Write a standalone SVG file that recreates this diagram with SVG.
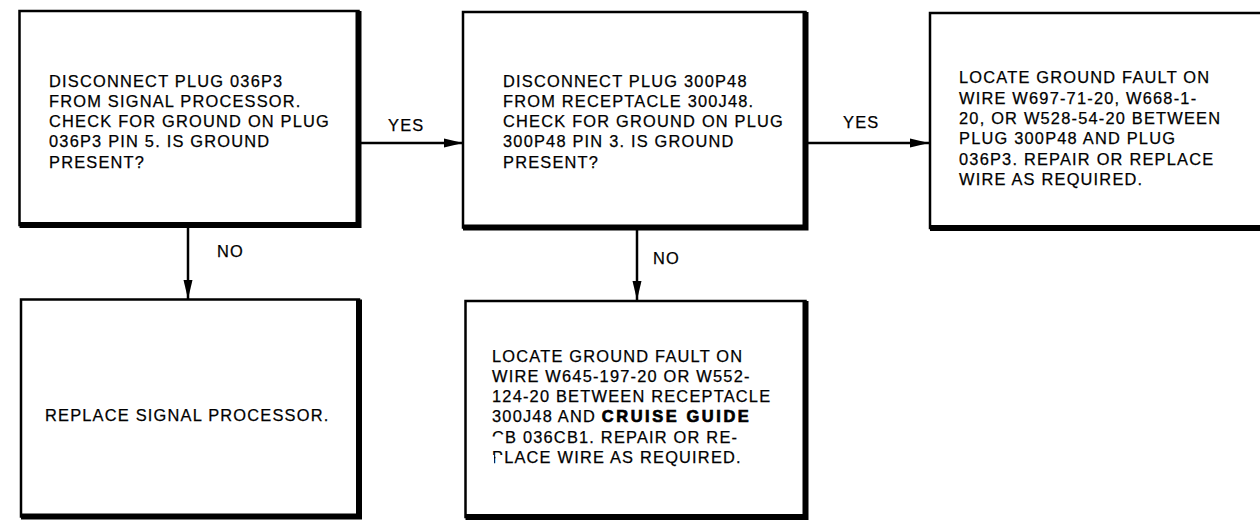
<svg xmlns="http://www.w3.org/2000/svg" width="1260" height="522" viewBox="0 0 1260 522">
<style>
.box{fill:#fff;stroke:#000;stroke-width:2.5}
.sh{fill:none;stroke:#000;stroke-width:6;stroke-linejoin:miter}
.t{font-family:"Liberation Sans",Arial,sans-serif;font-size:16.4px;letter-spacing:1.2px;fill:#000;stroke:#000;stroke-width:0.25}
.b{font-weight:bold;letter-spacing:2.6px;stroke-width:0.7}
.c{fill:none;stroke:#000;stroke-width:2.5}
.m{fill:#fff}
</style>
<defs>
<marker id="ah" markerUnits="userSpaceOnUse" markerWidth="20" markerHeight="10" refX="19" refY="5" orient="auto">
<path d="M0,0.5 L19,5 L0,9.5 z" fill="#000"/>
</marker>
</defs>
<rect width="1260" height="522" fill="#fff"/>
<g id="n1">
<rect class="box" x="19.5" y="11" width="339" height="214"/>
<path class="sh" d="M358.5,11 V225 H19.5"/>
<text class="t" x="49" y="86.5">DISCONNECT PLUG 036P3</text>
<text class="t" x="49" y="106.8">FROM SIGNAL PROCESSOR.</text>
<text class="t" x="49" y="127.1">CHECK FOR GROUND ON PLUG</text>
<text class="t" x="49" y="147.4">036P3 PIN 5. IS GROUND</text>
<text class="t" x="49" y="167.7">PRESENT?</text>
</g>
<g id="n2">
<rect class="box" x="463" y="12" width="342.5" height="215.5"/>
<path class="sh" d="M805.5,12 V227.5 H463"/>
<text class="t" x="503" y="86.5">DISCONNECT PLUG 300P48</text>
<text class="t" x="503" y="106.8">FROM RECEPTACLE 300J48.</text>
<text class="t" x="503" y="127.1">CHECK FOR GROUND ON PLUG</text>
<text class="t" x="503" y="147.4">300P48 PIN 3. IS GROUND</text>
<text class="t" x="503" y="167.7">PRESENT?</text>
</g>
<g id="n3">
<rect class="box" x="930" y="13" width="345" height="215"/>
<path class="sh" d="M930,228 H1275"/>
<text class="t" x="959" y="83.3">LOCATE GROUND FAULT ON</text>
<text class="t" x="959" y="103.6">WIRE W697-71-20, W668-1-</text>
<text class="t" x="959" y="123.9">20, OR W528-54-20 BETWEEN</text>
<text class="t" x="959" y="144.2">PLUG 300P48 AND PLUG</text>
<text class="t" x="959" y="164.5">036P3. REPAIR OR REPLACE</text>
<text class="t" x="959" y="184.8">WIRE AS REQUIRED.</text>
</g>
<g id="n4">
<rect class="box" x="21" y="299.5" width="338" height="217"/>
<path class="sh" d="M359,299.5 V516.5 H21"/>
<text class="t" x="45" y="421">REPLACE SIGNAL PROCESSOR.</text>
</g>
<g id="n5">
<rect class="box" x="465.5" y="301" width="340" height="216"/>
<path class="sh" d="M805.5,301 V517 H465.5"/>
<text class="t" x="492" y="361.7">LOCATE GROUND FAULT ON</text>
<text class="t" x="492" y="381.9">WIRE W645-197-20 OR W552-</text>
<text class="t" x="492" y="402.1">124-20 BETWEEN RECEPTACLE</text>
<text class="t" x="492" y="422.3">300J48 AND <tspan class="b">CRUISE GUIDE</tspan></text>
<text class="t" x="492" y="442.5">CB 036CB1. REPAIR OR RE-</text>
<text class="t" x="492" y="462.7">PLACE WIRE AS REQUIRED.</text>
<rect class="m" x="491" y="436.5" width="13" height="7.5"/>
<rect class="m" x="495.5" y="455" width="9" height="4"/>
<rect class="m" x="491" y="455" width="3" height="9"/>
</g>
<g id="connectors">
<line class="c" x1="361" y1="143" x2="463" y2="143" marker-end="url(#ah)"/>
<line class="c" x1="808" y1="143" x2="929" y2="143" marker-end="url(#ah)"/>
<line class="c" x1="188" y1="227" x2="188" y2="299" marker-end="url(#ah)"/>
<line class="c" x1="637" y1="229" x2="637" y2="300" marker-end="url(#ah)"/>
<text class="t" x="388" y="131">YES</text>
<text class="t" x="843" y="128">YES</text>
<text class="t" x="217" y="257">NO</text>
<text class="t" x="653" y="264">NO</text>
</g>
</svg>
